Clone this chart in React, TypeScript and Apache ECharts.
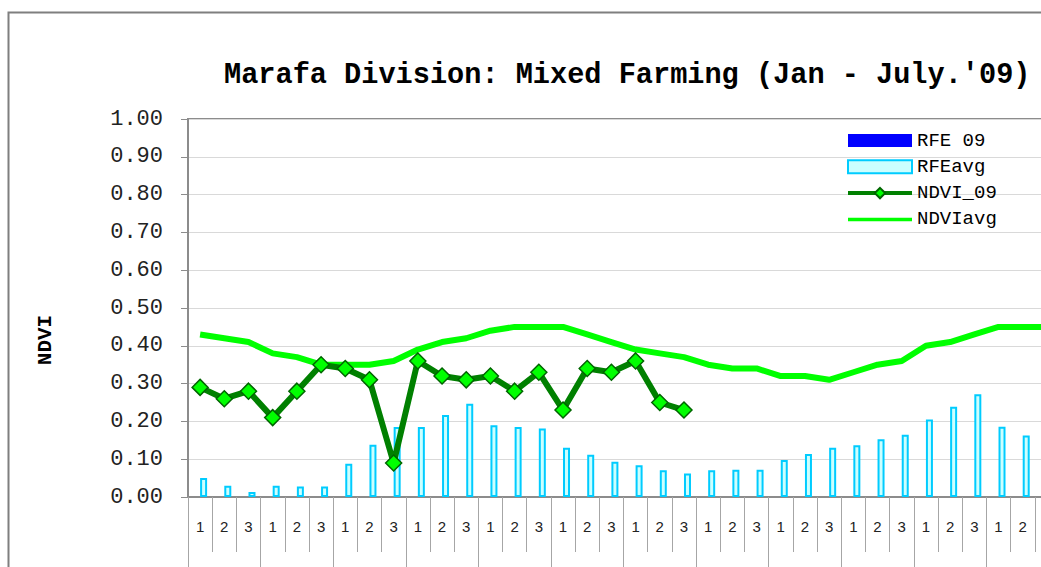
import React, { useEffect, useRef } from "react";
import * as echarts from "echarts";

const dekadLabels = [
  "1", "2", "3", "1", "2", "3", "1", "2", "3", "1", "2", "3",
  "1", "2", "3", "1", "2", "3", "1", "2", "3", "1", "2", "3",
  "1", "2", "3", "1", "2", "3", "1", "2", "3", "1", "2", "3",
];
const months = ["Jan", "Feb", "Mar", "Apr", "May", "Jun", "Jul", "Aug", "Sep", "Oct", "Nov", "Dec"];
const yTicks = [0, 1, 0.1];

const rfe09: (number | null)[] = [];
const rfeAvg = [
  0.05, 0.03, 0.013, 0.03, 0.028, 0.028, 0.088, 0.138, 0.185, 0.185, 0.217, 0.247,
  0.19, 0.185, 0.181, 0.13, 0.112, 0.093, 0.084, 0.071, 0.062, 0.071, 0.072, 0.072,
  0.098, 0.114, 0.13, 0.137, 0.153, 0.165, 0.205, 0.239, 0.272, 0.186, 0.163, 0.15,
];
const ndvi09 = [
  0.29, 0.26, 0.28, 0.21, 0.28, 0.35, 0.34, 0.31, 0.09, 0.36, 0.32, 0.31,
  0.32, 0.28, 0.33, 0.23, 0.34, 0.33, 0.36, 0.25, 0.23,
];
const ndviAvg = [
  0.43, 0.42, 0.41, 0.38, 0.37, 0.35, 0.35, 0.35, 0.36, 0.39, 0.41, 0.42,
  0.44, 0.45, 0.45, 0.45, 0.43, 0.41, 0.39, 0.38, 0.37, 0.35, 0.34, 0.34,
  0.32, 0.32, 0.31, 0.33, 0.35, 0.36, 0.40, 0.41, 0.43, 0.45, 0.45, 0.45,
];

const MONO = "'Liberation Mono', 'Courier New', monospace";
const SANS = "'Liberation Sans', Arial, sans-serif";

export default function App() {
  const ref = useRef<HTMLDivElement>(null);
  useEffect(() => {
    if (!ref.current) return;
    const chart = echarts.init(ref.current, undefined, { renderer: "svg" });
    chart.setOption({
      animation: false,
      backgroundColor: "#ffffff",
      title: {
        text: "Marafa Division: Mixed Farming (Jan - July.'09)",
        left: 219,
        top: 56,
        textStyle: { fontFamily: MONO, fontWeight: "bold", fontSize: 28.6, color: "#000" },
      },
      graphic: [
        {
          type: "rect",
          shape: { x: 8.5, y: 12.5, width: 1200, height: 700 },
          style: { fill: "none", stroke: "#7f7f7f", lineWidth: 2 },
          silent: true,
        },
        {
          type: "text",
          x: 45,
          y: 340,
          rotation: Math.PI / 2,
          style: {
            text: "NDVI",
            fontFamily: MONO,
            fontWeight: "bold",
            fontSize: 21,
            fill: "#000",
            align: "center",
            verticalAlign: "middle",
          },
          silent: true,
        },
      ],
      legend: {
        orient: "vertical",
        left: 841,
        top: 126,
        itemWidth: 64,
        itemHeight: 13,
        itemGap: 7.3,
        data: [
          { name: "RFE 09", icon: "rect" },
          { name: "RFEavg", icon: "rect" },
          { name: "NDVI_09", lineStyle: { width: 4 } },
          { name: "NDVIavg", lineStyle: { width: 3.5 }, itemStyle: { color: "transparent", borderWidth: 0, opacity: 0 } },
        ],
        textStyle: { fontFamily: MONO, fontSize: 19, color: "#000" },
      },
      grid: {
        left: 188,
        top: 119,
        right: 21,
        bottom: 70,
        show: true,
        borderColor: "#8c8c8c",
        borderWidth: 2,
        backgroundColor: "transparent",
      },
      xAxis: [
        {
          type: "category",
          data: dekadLabels,
          position: "bottom",
          axisLine: { show: true, lineStyle: { color: "#8c8c8c", width: 2 } },
          axisTick: { show: true, interval: 0, length: 55, lineStyle: { color: "#a6a6a6", width: 1 } },
          axisLabel: {
            interval: (index: number) => index < 35,
            margin: 22,
            fontFamily: SANS,
            fontSize: 15,
            color: "#222",
          },
        },
        {
          type: "category",
          data: months,
          position: "bottom",
          axisLine: { show: false },
          axisTick: { show: true, interval: 0, length: 80, lineStyle: { color: "#a6a6a6", width: 1 } },
          axisLabel: { show: false },
        },
      ],
      yAxis: {
        type: "value",
        min: yTicks[0],
        max: yTicks[1],
        interval: yTicks[2],
        axisLine: { show: true, lineStyle: { color: "#8c8c8c", width: 2 } },
        axisTick: { show: true, length: 7, lineStyle: { color: "#8c8c8c" } },
        axisLabel: {
          margin: 25,
          fontFamily: MONO,
          fontSize: 22,
          color: "#222",
          formatter: (v: number) => v.toFixed(2),
        },
        splitLine: { show: true, lineStyle: { color: "#d9d9d9", width: 1 } },
      },
      series: [
        {
          name: "RFE 09",
          type: "bar",
          data: rfe09,
          barWidth: 7,
          barGap: "0%",
          itemStyle: { color: "#0000ff" },
        },
        {
          name: "RFEavg",
          type: "bar",
          data: rfeAvg,
          barWidth: 7,
          barGap: "0%",
          itemStyle: { color: "#ccffff", borderColor: "#00ccff", borderWidth: 2 },
        },
        {
          name: "NDVI_09",
          type: "line",
          data: ndvi09,
          z: 4,
          symbol: "diamond",
          symbolSize: 16,
          lineStyle: { color: "#008000", width: 6 },
          itemStyle: { color: "#00ff00", borderColor: "#006400", borderWidth: 1.5 },
        },
        {
          name: "NDVIavg",
          type: "line",
          data: ndviAvg,
          z: 3,
          symbol: "none",
          lineStyle: { color: "#00ff00", width: 6 },
          itemStyle: { color: "#00ff00" },
        },
      ],
    });
    return () => chart.dispose();
  }, []);
  return (
    <div
      style={{
        position: "fixed",
        left: 0,
        top: 0,
        width: 1041,
        height: 567,
        overflow: "hidden",
        background: "#fff",
      }}
    >
      <div ref={ref} style={{ width: 1080, height: 567 }} />
    </div>
  );
}
